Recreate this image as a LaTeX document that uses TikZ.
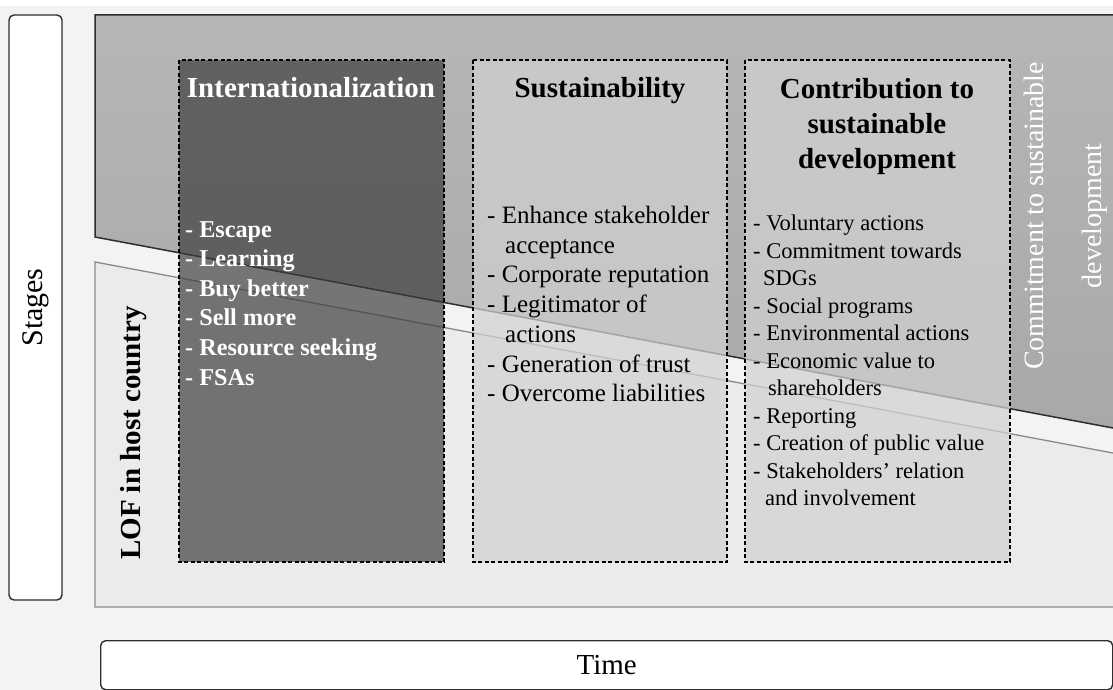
\documentclass[tikz,border=0pt]{standalone}
\usepackage{fontspec}
\setmainfont{Liberation Serif}
\newcommand\setfs[2]{\fontsize{#1}{#2}\selectfont}
\definecolor{pagebg}{HTML}{F3F3F3}
\definecolor{uppertop}{HTML}{B6B6B6}
\definecolor{upperbot}{HTML}{A8A8A8}
\definecolor{lowerfill}{HTML}{EBEBEB}
\definecolor{edgedark}{HTML}{2E2E2E}
\definecolor{edgelight}{HTML}{8A8A8A}
\definecolor{darkcol}{HTML}{3A3A3A}
\definecolor{lightcol}{HTML}{D1D1D1}
\begin{document}
\begin{tikzpicture}[x=1pt,y=-1pt,
  framebox/.style={draw=edgedark, line width=1.4pt, fill=white, rounded corners=5pt, inner sep=0pt},
  stagecol/.style={draw=black, line width=1.3pt, dash pattern=on 4pt off 2.5pt},
  darkstage/.style={stagecol, fill=darkcol, fill opacity=0.68},
  lightstage/.style={stagecol, fill=lightcol, fill opacity=0.72},
  title/.style={inner sep=0pt, font=\setfs{29}{35}\bfseries},
  items/.style={inner sep=0pt, anchor=north west, align=left},
]
\useasboundingbox (0,0) rectangle (1113,690);
\fill[pagebg] (0,0) rectangle (1113,690);
\fill[white] (0,0) rectangle (1113,6);

% the two bands of the stages: LOF region below, commitment region above
\begin{scope}
  \clip (0,0) rectangle (1113,690);
  \filldraw[fill=lowerfill, draw=edgelight, line width=1.3pt]
    (95,262) -- (1130,456.2) -- (1130,607) -- (95,607) -- cycle;
  \shade[top color=uppertop, bottom color=upperbot]
    (95,15) -- (1130,15) -- (1130,431.2) -- (95,237) -- cycle;
  \draw[edgedark, line width=1.5pt]
    (1130,15) -- (95,15) -- (95,237) -- (1130,431.2);
\end{scope}

% stage columns
\filldraw[darkstage]  (179,60) rectangle (444,562);
\filldraw[lightstage] (473,60) rectangle (727,562);
\filldraw[lightstage] (745,60) rectangle (1010,562);

% axis boxes
\node[framebox, rotate=90, minimum width=585pt, minimum height=53pt,
      font=\setfs{30}{36}] (stages) at (35.5,307.5) {Stages};
\node[framebox, anchor=north west, minimum width=1012pt, minimum height=49pt,
      font=\setfs{29}{35}] (time) at (100,640) {Time};

% column titles
\node[title, anchor=base, text=white] (intltitle) at (311,98) {Internationalization};
\node[title, anchor=base] (sustitle) at (600,98) {Sustainability};
\node[title, anchor=north, align=center] (contitle) at (877,78)
  {Contribution to\\sustainable\\development};

% column contents
\node[items, text=white, font=\setfs{24.2}{29.6}\bfseries] (intlitems) at (185,221)
  {- Escape\\- Learning\\- Buy better\\- Sell more\\- Resource seeking\\- FSAs};
\node[items, font=\setfs{25}{29.7}] (susitems) at (487,206)
  {- Enhance stakeholder\\\hspace*{18pt}acceptance\\- Corporate reputation\\- Legitimator of\\\hspace*{18pt}actions\\- Generation of trust\\- Overcome liabilities};
\node[items, font=\setfs{22.5}{27.5}] (conitems) at (753,215)
  {- Voluntary actions\\- Commitment towards\\\hspace*{10pt}SDGs\\- Social programs\\- Environmental actions\\- Economic value to\\\hspace*{15pt}shareholders\\- Reporting\\- Creation of public value\\- Stakeholders' relation\\\hspace*{12pt}and involvement};

% side labels
\node[rotate=90, inner sep=0pt, font=\setfs{29}{35}\bfseries] (lof) at (134,433) {LOF in host country};
\node[rotate=90, inner sep=0pt, align=center, text=white, font=\setfs{28}{58}] (commit) at (1066,216)
  {Commitment to sustainable\\development};
\end{tikzpicture}
\end{document}
